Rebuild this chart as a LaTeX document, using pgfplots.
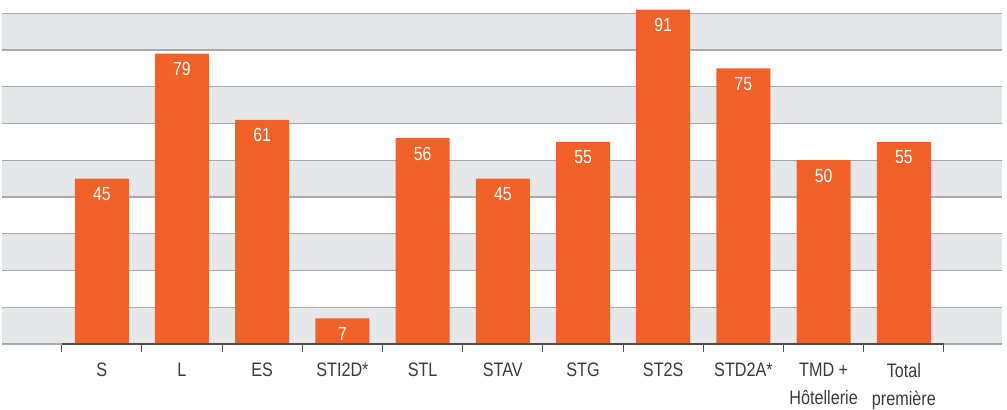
\documentclass[border=0pt]{standalone}
\usepackage{pgfplots}
\pgfplotsset{compat=1.18}
\usepackage{fontspec}
\setmainfont{Liberation Sans}[FakeStretch=0.83]
\definecolor{barorange}{HTML}{F16228}
\definecolor{bandgrey}{HTML}{E6E7E8}
\definecolor{gridgrey}{HTML}{A7A9AC}
\definecolor{axisgrey}{HTML}{4D4D4D}
\definecolor{labelgrey}{HTML}{3A3A3A}
\begin{document}
\begin{tikzpicture}
\begin{axis}[name=ax,
  scale only axis, width=999.7pt, height=344pt,
  xmin=-1.244, xmax=11.22, ymin=0, ymax=93.6,
  axis line style={draw=none},
  ytick=\empty,
  xtick={0,...,10},
  xticklabels={S, L, ES, STI2D*, STL, STAV, STG, ST2S, STD2A*, {TMD +\\Hôtellerie}, {Total\\première}},
  major tick length=0pt,
  major x tick style={draw=none},
  minor xtick={-0.5,0.5,...,10.5},
  minor tick length=8pt,
  tick align=outside,
  xtick pos=bottom,
  minor x tick style={draw=axisgrey, line width=1pt},
  xticklabel style={font=\fontsize{19.5}{28}\selectfont, text=labelgrey, align=center, inner sep=0pt, anchor=north, yshift=-19pt},
  ybar, bar width=54pt, bar shift=0pt,
  /pgf/number format/assume math mode=true,
  nodes near coords,
  every node near coord/.append style={anchor=north, yshift=-8.5pt, text=white, inner sep=0pt, font=\fontsize{19}{21}\selectfont},
  clip=false,
]
\fill[bandgrey] (axis cs:-1.244,0) rectangle (axis cs:11.22,10);
\fill[bandgrey] (axis cs:-1.244,20) rectangle (axis cs:11.22,30);
\fill[bandgrey] (axis cs:-1.244,40) rectangle (axis cs:11.22,50);
\fill[bandgrey] (axis cs:-1.244,60) rectangle (axis cs:11.22,70);
\fill[bandgrey] (axis cs:-1.244,80) rectangle (axis cs:11.22,90);
\pgfplotsinvokeforeach{0,10,20,30,40,50,60,70,80,90}{
  \draw[gridgrey, line width=1.3pt] (axis cs:-1.244,#1) -- (axis cs:11.22,#1);
}
\addplot[fill=barorange, draw=none] coordinates {
  (0,45) (1,79) (2,61) (3,7) (4,56) (5,45) (6,55) (7,91) (8,75) (9,50) (10,55)
};
\draw[axisgrey, line width=1.2pt] (axis cs:-0.5,0) -- (axis cs:10.5,0);
\end{axis}
\path ([xshift=-2pt,yshift=-65pt]ax.south west) rectangle ([xshift=5.3pt]ax.north east);
\end{tikzpicture}
\end{document}
